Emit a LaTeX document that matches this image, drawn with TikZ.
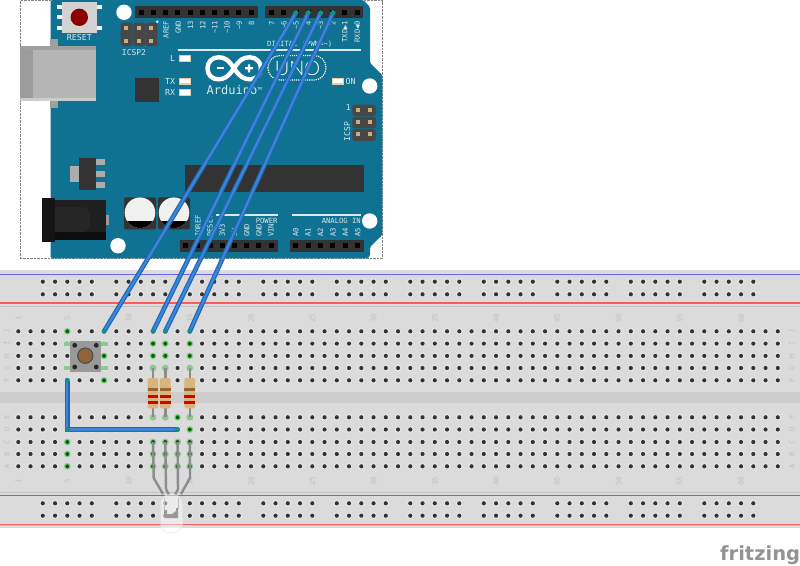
\documentclass[tikz,border=0pt]{standalone}
\usepackage{fontspec}
\usepackage{tikz}
\usetikzlibrary{positioning}
\newfontfamily\silkfont{DejaVu Sans Mono}
\newfontfamily\logofont{Lato Light}
\newfontfamily\brandfont{DejaVu Sans}
\newcommand{\tld}{\textasciitilde}
\definecolor{pcb}{HTML}{0F7292}
\definecolor{silk}{HTML}{D8E8EE}
\definecolor{plastic}{HTML}{DBDBDB}
\definecolor{gutter}{HTML}{CFCDCB}
\definecolor{rail}{HTML}{C2C2C2}
\definecolor{halo}{HTML}{E9E9E9}
\definecolor{ink}{HTML}{333333}
\definecolor{wireedge}{HTML}{1F66B4}
\definecolor{wirecore}{HTML}{3C86DA}
\definecolor{wiretip}{HTML}{1A8C90}
\definecolor{legc}{HTML}{8C8C8C}
\definecolor{tan}{HTML}{D9B57E}
\definecolor{glow}{HTML}{8CC98C}

\begin{document}
\begin{tikzpicture}[x=1pt, y=-1pt,
  silklab/.style={text=silk, inner sep=0pt, font={\silkfont\fontsize{7.2}{8}\selectfont}},
  pinup/.style={silklab, rotate=90, anchor=east},
  pindown/.style={silklab, rotate=90, anchor=west},
  bblab/.style={text=rail, inner sep=0pt, rotate=90, font={\silkfont\fontsize{7.5}{8}\selectfont}},
  wire/.style={draw=wireedge, line width=1.2pt, double=wirecore, double distance=2.2pt},
  leg/.style={draw=legc, line width=2.4pt, line join=round},
  pad/.style={fill=ink!90!white, rounded corners=2.5pt},
  lamp/.style={fill=white, draw=tan!70!white, line width=1.3pt}]
 \useasboundingbox (0,0) rectangle (800,565);

 % breadboard
 \fill[plastic] (0,270) rectangle (800,528);
 \fill[gutter] (0,392) rectangle (800,403);
 \draw[rail] (0,306) -- (800,306) (0,492) -- (800,492);
 \draw[blue!60!white, line width=1.2pt] (0,274.7) -- (800,274.7) (0,495.7) -- (800,495.7);
 \draw[red!65!white, line width=1.2pt] (0,303) -- (800,303) (0,524.3) -- (800,524.3);
 \foreach \r/\y in {J/331.3,I/343.6,H/355.9,G/368,F/380.3,E/417.3,D/429.5,C/442,B/454,A/466.3}{
  \node[bblab] (left\r) at (7,\y) {\r};
  \node[bblab] (right\r) at (792,\y) {\r};
  \foreach \c in {1,...,63}{
   \coordinate (\r\c) at ({18.3+12.25*(\c-1)},\y);
   \fill[halo] (\r\c) circle (3.2);
   \fill[ink] (\r\c) circle (2.1);
  }
 }
 \foreach \y in {281.7,294.3,503.3,515.7}
  \foreach \g in {3,9,...,57}
   \foreach \k in {0,...,4}{
    \fill[halo] ({18.3+12.25*(\g+\k-1)},\y) circle (3.2);
    \fill[ink] ({18.3+12.25*(\g+\k-1)},\y) circle (2.1);
   }
 \foreach \c in {1,5,10,...,60}{
  \node[bblab] (top\c) at ({18.3+12.25*(\c-1)},318) {\c};
  \node[bblab] (bot\c) at ({18.3+12.25*(\c-1)},481) {\c};
 }
 % connected holes
 \foreach \h in {J5,F8,H8,I12,H12,I13,H13,I15,H15,C5,B5,A5,E14,D15,C12,B12,A12,C13,B13,A13,C14,B14,A14,C15,B15,A15}{
  \fill[glow] (\h) circle (3.4);
  \fill[green!40!black] (\h) circle (2);
 }
 \foreach \h in {G12,G13,G15,E12,E13,E15}
  \fill[glow] (\h) circle (3.4);

 % arduino
 \draw[gray, densely dotted] (20,0.5) rectangle (382.3,258.3);
 \fill[pcb, rounded corners=1.5pt] (50.7,0) -- (363,0) -- (370,7) -- (370,63) -- (382.3,75) -- (382.3,235)
  -- (370,247) -- (370,256) -- (368,258.3) -- (50.7,258.3) -- cycle;
 \foreach \x/\y in {124/12.3,369.7/86,369.7/221,118/245.7}
  \fill[white] (\x,\y) circle (7.7);
 % usb and jack
 \fill[gray!75!white] (50,39.3) rectangle (58.3,108.3);
 \fill[gray!58!white] (20,46) rectangle (95.7,101);
 \fill[gray!78!white] (20,46) rectangle (33,101);
 \fill[gray!75!white] (20,46) rectangle (95.7,49.5);
 \fill[gray!40!white] (20,98) rectangle (95.7,101);
 \fill[gray!80!white] (106,215) rectangle (109,225);
 \fill[black!88] (55,200) rectangle (106,240);
 \fill[black!85, rounded corners=8pt] (50,207) rectangle (90,232);
 \fill[black!95] (55,232) rectangle (106,240);
 \fill[black!92] (42.3,198.3) rectangle (55,241.7);
 % capacitors
 \foreach \x in {124,158}{
  \fill[ink, rounded corners=2pt] (\x,197.3) rectangle ({\x+32},229.3);
  \fill[white!88!gray] ({\x+16},212.7) circle (15.3);
  \begin{scope}
   \clip (\x,221.7) rectangle ({\x+32},230);
   \fill[black] ({\x+16},212.7) circle (15.3);
  \end{scope}
 }
 % regulator
 \fill[gray!65!white] (70,165.7) rectangle (80,182.3);
 \foreach \y in {159.3,171,182.3}
  \fill[gray!65!white] (95,\y) rectangle (105,{\y+6});
 \fill[ink] (79.3,157.7) rectangle (96,190);
 % chips
 \fill[ink] (135,78.3) rectangle (159,102.3);
 \fill[ink] (185,165) rectangle (364.3,192.3);
 % reset switch
 \foreach \y in {7,17.3,28.3}
  \fill[white!90!gray] (57.3,{\y-2}) rectangle (62,{\y+2});
 \foreach \y in {7,28.3}
  \fill[white!90!gray] (97,{\y-2}) rectangle (102,{\y+2});
 \fill[gray!35!white] (61.7,2) rectangle (97.3,32.7);
 \fill[red!55!black] (79.3,17.3) circle (8.7);
 \node[silklab, font={\silkfont\fontsize{8.3}{9}\selectfont}] (resetlab) at (79.3,37) {RESET};
 % icsp headers
 \foreach \x in {120.7,133.2,145.3}
  \fill[pad] (\x,22.7) rectangle ({\x+12},46);
 \foreach \x in {126.3,138.5,151}
  \foreach \y in {28.3,40.7}
   \fill[tan!85!gray] ({\x-2},{\y-2}) rectangle ({\x+2},{\y+2});
 \fill[white] (157.3,21.7) circle (1.4);
 \node[silklab, font={\silkfont\fontsize{8}{9}\selectfont}] (icsptwo) at (134,52.3) {ICSP2};
 \foreach \y in {104.7,116.8,129.2}
  \fill[pad] (352.3,\y) rectangle (376,{\y+11.6});
 \foreach \y in {109.7,122.3,134.3}
  \foreach \x in {357.7,370}
   \fill[tan!85!gray] ({\x-2},{\y-2}) rectangle ({\x+2},{\y+2});
 \node[silklab, font={\silkfont\fontsize{8}{9}\selectfont}] (icsplab) at (347.3,131.7) [rotate=90] {ICSP};
 \node[silklab, font={\silkfont\fontsize{8}{9}\selectfont}] (icspone) at (348.3,107.7) {1};
 % pin headers
 \fill[ink] (135,6) rectangle (257.7,18.3);
 \fill[ink] (265.3,6) rectangle (363.3,18.3);
 \fill[ink] (180,240) rectangle (277.7,251.7);
 \fill[ink] (290,240) rectangle (363.7,251.7);
 \foreach \n in {0,...,9}
  \fill[black] ({141.3+12.2*\n-2.5},9.8) rectangle ({141.3+12.2*\n+2.5},14.8);
 \foreach \n in {0,...,7}{
  \fill[black] ({271.7+12.2*\n-2.5},9.8) rectangle ({271.7+12.2*\n+2.5},14.8);
  \fill[black] ({185.7+12.2*\n-2.5},243.3) rectangle ({185.7+12.2*\n+2.5},248.3);
 }
 \foreach \n in {0,...,5}
  \fill[black] ({295.7+12.4*\n-2.5},243.3) rectangle ({295.7+12.4*\n+2.5},248.3);
 \coordinate (P5) at (296,12.7);
 \coordinate (P4) at (308.3,12.7);
 \coordinate (P3) at (320.7,12.7);
 \coordinate (P2) at (333,12.7);
 % pin labels
 \foreach \x/\t in {166/AREF,178.2/GND,190.4/13,202.6/12,214.8/\tld 11,227/\tld 10,239.2/\tld 9,251.4/8,
   271.7/7,283.9/\tld 6,296/\tld 5,308.3/4,320.5/\tld 3,332.8/2,345/TXD▶1,357.3/RXD◀0}
  \node[pinup] at (\x,20.7) {\t};
 \foreach \x/\t in {197.9/IOREF,210.1/RESET,222.3/3V3,234.5/5V,246.7/GND,258.9/GND,271.1/VIN,
   295.7/A0,308.1/A1,320.5/A2,332.9/A3,345.3/A4,357.7/A5}
  \node[pindown] at (\x,237) {\t};
 % silk lines and titles
 \draw[silk, line width=1.4pt] (177.7,50) -- (361,50) (216,215) -- (277.7,215) (292.3,215) -- (361,215);
 \node[silklab, anchor=west] (digital) at (267,44.5) {DIGITAL (PWM=\tld)};
 \node[silklab, anchor=east] (power) at (277.7,221) {POWER};
 \node[silklab, anchor=east] (analog) at (361,221) {ANALOG IN};
 % leds
 \foreach \x/\y/\t/\a in {179/55/L/172.7,179/77.7/TX/170,179/89/RX/170,331.7/77.7/ON/350.7}{
  \fill[lamp] ({\x+0.6},{\y+0.6}) rectangle ({\x+11.8},{\y+6.2});
  \node[silklab, font={\silkfont\fontsize{8.3}{9}\selectfont}] at (\a,{\y+3.4}) {\t};
 }
 % logo
 \draw[white, line width=4.4pt] (234,68.3) .. controls (228,59) and (224,57.3) .. (218.5,57.3)
  .. controls (212,57.3) and (207.5,62) .. (207.5,68.3) .. controls (207.5,75) and (212,79.3) .. (218.5,79.3)
  .. controls (224,79.3) and (228,77) .. (234,68.3) .. controls (240,59) and (244,57.3) .. (250,57.3)
  .. controls (256,57.3) and (261,62) .. (261,68.3) .. controls (261,75) and (256,79.3) .. (250,79.3)
  .. controls (244,79.3) and (240,77) .. (234,68.3) -- cycle;
 \fill[white] (216.5,67.2) rectangle (223.5,69.4);
 \fill[white] (245,67.2) rectangle (253,69.4) (247.9,64.3) rectangle (250.1,72.3);
 \draw[white, line width=1.2pt, densely dotted, rounded corners=12pt] (268,55.5) rectangle (326,80);
 \node[text=white, inner sep=0pt, font={\logofont\fontsize{20}{21}\selectfont}] (uno) at (297.5,68) {UNO};
 \node[silklab, anchor=west, font={\silkfont\fontsize{12}{13}\selectfont}] (brand) at (206.5,90)
  {Arduino\raisebox{3.5pt}{\fontsize{4}{4}\selectfont TM}};

 % switch
 \foreach \h in {I5,G5,I8,G8}
  \fill[glow] ([xshift=-3.5pt,yshift=-2pt]\h) rectangle ([xshift=3.5pt,yshift=2pt]\h);
 \fill[gray!80!white] (70,341) rectangle (100.7,371.7);
 \foreach \x in {74.7,96.3}
  \foreach \y in {345.3,367}
   \fill[black!85] (\x,\y) circle (2.4);
 \fill[gray!60!black] (85.3,355.7) circle (8.2);
 \fill[brown!75!black!85!gray] (85.3,355.7) circle (7);

 % resistors
 \foreach \c/\a/\b in {12/G12/E12,13/G13/E13,15/G15/E15}{
  \draw[leg] (\a) -- (\b);
  \fill[tan, rounded corners=1.5pt] ([xshift=-5.4pt]\a|-0,378) rectangle ([xshift=5.4pt]\a|-0,408.3);
  \fill[brown!80!black] ([xshift=-5.4pt]\a|-0,388) rectangle ([xshift=5.4pt]\a|-0,390.6);
  \fill[red!85!black] ([xshift=-5.4pt]\a|-0,395) rectangle ([xshift=5.4pt]\a|-0,398);
  \fill[red!85!black] ([xshift=-5.4pt]\a|-0,401) rectangle ([xshift=5.4pt]\a|-0,404);
 }

 % rgb led
 \draw[leg] (C12) -- (153.7,478) -- (163,494);
 \draw[leg] (C13) -- (166,489) -- (169,495);
 \draw[leg] (C14) -- (178,489) -- (175,495);
 \draw[leg] (C15) -- (190,478) -- (181,494);
 \fill[white, fill opacity=.45] (160.5,525) -- (160.5,505) .. controls (160.5,497) and (166,494) .. (171.5,494)
  .. controls (177,494) and (182.5,497) .. (182.5,505) -- (182.5,525) .. controls (182.5,530) and (177,533) .. (171.5,533)
  .. controls (166,533) and (160.5,530) .. (160.5,525) -- cycle;
 \draw[gray!25!white] (160.5,525) -- (160.5,505) .. controls (160.5,497) and (166,494) .. (171.5,494)
  .. controls (177,494) and (182.5,497) .. (182.5,505) -- (182.5,525)
  .. controls (182.5,530) and (177,533) .. (171.5,533) .. controls (166,533) and (160.5,530) .. (160.5,525);
 \draw[gray!50!white, line width=.8pt] (164.5,498) -- (164.5,511) (178,498) -- (178,509);
 \fill[gray!80!white] (164,518) -- (164,510) -- (167,510) -- (167,514) -- (172,514) -- (176,511)
  -- (176,508) -- (178,508) -- (178,518) -- cycle;

 % wires
 \draw[wire] (P5) -- (J8);
 \draw[wire] (P4) -- (J12);
 \draw[wire] (P3) -- (J13);
 \draw[wire] (P2) -- (J15);
 \draw[wire] (F5) -- (D5) -- (D14);
 \foreach \h in {P5,P4,P3,P2,J8,J12,J13,J15,F5,D5,D14}
  \fill[wiretip] (\h) circle (2.6);

 \node[anchor=base west, inner sep=0pt, text=gray!85!white, font={\brandfont\bfseries\fontsize{19.5}{21}\selectfont}] (fritz) at (720,560) {fritzing};
\end{tikzpicture}
\end{document}
